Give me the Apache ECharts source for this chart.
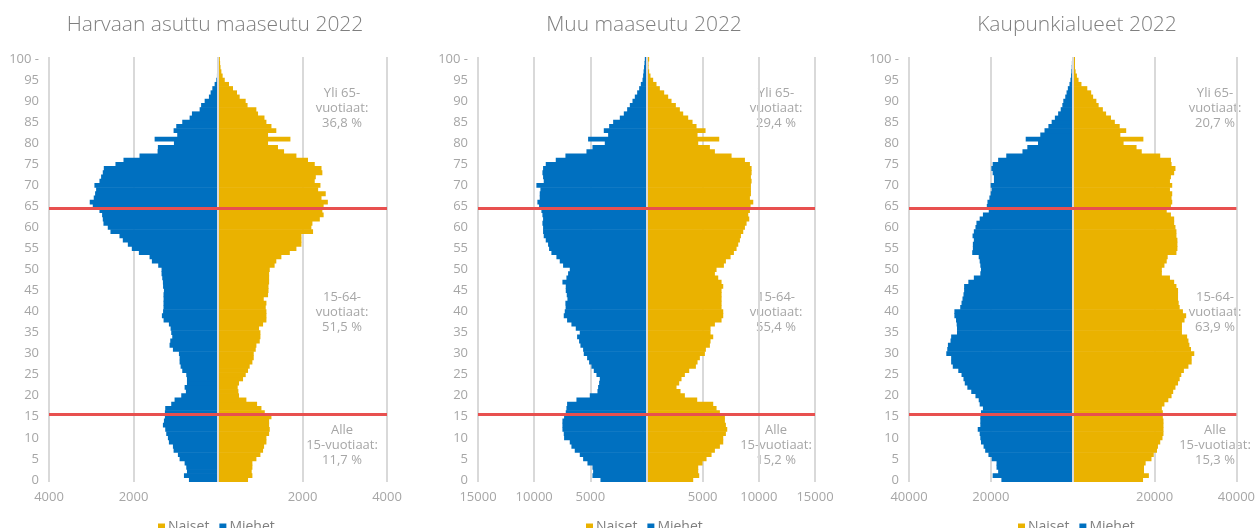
<!DOCTYPE html>
<html>
<head>
<meta charset="utf-8">
<title>Väestörakenne 2022</title>
<script src="https://cdn.jsdelivr.net/npm/echarts@6/dist/echarts.min.js"></script>
<style>
  html, body { margin: 0; padding: 0; background: #fff; }
  #chart { width: 1258px; height: 528px; }
</style>
</head>
<body>
<div id="chart"></div>
<script>
// ikäluokat 0..100
const ages = Array.from({ length: 101 }, (_, i) => String(i));

const titles = ["Harvaan asuttu maaseutu 2022", "Muu maaseutu 2022", "Kaupunkialueet 2022"];

// Harvaan asuttu maaseutu
const harvaanMiehet = [
  688, 806, 735, 751, 790, 909, 949, 1051, 1067, 1162,
  1186, 1225, 1249, 1304, 1280, 1257, 1257, 1249, 1107, 1028,
  870, 760, 790, 735, 735, 751, 846, 885, 909, 909,
  925, 1067, 1146, 1130, 1083, 1107, 1122, 1162, 1288, 1328,
  1300, 1290, 1290, 1288, 1290, 1280, 1300, 1304, 1320, 1336,
  1336, 1415, 1565, 1620, 1873, 2040, 2134, 2253, 2332, 2545,
  2609, 2711, 2727, 2743, 2806, 2964, 3036, 2941, 2909, 2885,
  2925, 2806, 2767, 2727, 2703, 2427, 2237, 1858, 1430, 1423,
  1043, 1500, 965, 1051, 988, 846, 672, 617, 435, 400,
  316, 215, 175, 134, 80, 40, 25, 15, 10, 5,
  3
];
const harvaanNaiset = [
  711, 814, 798, 814, 814, 909, 1004, 1067, 1091, 1146,
  1146, 1210, 1225, 1210, 1210, 1265, 1107, 1028, 925, 672,
  498, 482, 466, 498, 593, 656, 711, 750, 814, 846,
  846, 893, 909, 988, 1004, 1004, 972, 1067, 1146, 1146,
  1146, 1130, 1146, 1083, 1185, 1195, 1195, 1210, 1210, 1210,
  1225, 1340, 1380, 1500, 1700, 1856, 1975, 1975, 1975, 2250,
  2210, 2235, 2410, 2500, 2470, 2500, 2600, 2450, 2550, 2370,
  2425, 2290, 2315, 2470, 2450, 2290, 2130, 1856, 1564, 1420,
  1185, 1714, 1185, 1380, 1265, 1146, 1100, 948, 908, 700,
  655, 513, 450, 355, 260, 160, 110, 80, 60, 50,
  45
];

// Muu maaseutu
const muuMiehet = [
  4099, 4811, 4752, 4811, 5257, 5643, 5940, 6386, 6683, 6831,
  7336, 7366, 7484, 7484, 7484, 7336, 7187, 7128, 7069, 6237,
  5049, 4366, 4307, 4217, 4158, 4455, 4693, 4900, 5108, 5287,
  5584, 5643, 5881, 6000, 6178, 5940, 6296, 6683, 7069, 7366,
  7276, 7200, 7220, 7039, 7100, 7187, 7187, 7484, 7128, 6980,
  6831, 7425, 7722, 8019, 8465, 8672, 8762, 8969, 9148, 9207,
  9207, 9266, 9207, 9266, 9355, 9563, 9712, 9504, 9504, 9445,
  9801, 9148, 9207, 9266, 9207, 8969, 8078, 7217, 5346, 4811,
  3713, 5198, 3416, 3802, 3326, 2970, 2376, 2020, 1723, 1485,
  1247, 1040, 832, 653, 505, 356, 300, 260, 220, 180,
  150
];
const muuNaiset = [
  4158, 4693, 4604, 4604, 4990, 5346, 5792, 6089, 6534, 6831,
  6831, 7069, 7187, 7069, 6980, 6980, 6534, 6237, 5940, 4514,
  3416, 3029, 2673, 2911, 3118, 3416, 3802, 4396, 4544, 4752,
  5197, 5287, 5643, 5702, 5940, 5702, 5702, 6089, 6683, 6831,
  6831, 6683, 6683, 6683, 6683, 6683, 6831, 6683, 6386, 6089,
  6237, 6890, 7069, 7484, 7781, 8019, 8168, 8316, 8405, 8613,
  8762, 8910, 9148, 9059, 9207, 9266, 9504, 9207, 9297, 9297,
  9297, 9356, 9297, 9356, 9356, 9207, 8762, 7574, 6089, 5643,
  4604, 6475, 4544, 5257, 4455, 4099, 3713, 3267, 2970, 2614,
  2228, 1930, 1574, 1188, 891, 594, 356, 240, 180, 180,
  240
];

// Kaupunkialueet
const kaupunkiMiehet = [
  17424, 19562, 18216, 18612, 18612, 19800, 20592, 21384, 21780, 22414,
  22572, 22730, 23206, 22572, 22572, 22572, 22414, 21938, 22730, 22968,
  23760, 24790, 25740, 26374, 26690, 27166, 27958, 29304, 29700, 29700,
  30888, 30650, 30492, 29858, 29700, 28274, 28274, 28354, 28512, 28908,
  28908, 27482, 27166, 26928, 26690, 26532, 26532, 25502, 24156, 22572,
  22414, 22572, 22730, 22968, 24552, 24394, 24394, 24156, 24472, 24156,
  23760, 23522, 22730, 21938, 20512, 20988, 20830, 20354, 20038, 19800,
  20038, 19246, 19246, 19562, 19879, 19562, 18216, 16236, 12276, 11088,
  8474, 11484, 7920, 6890, 5940, 5148, 4356, 3564, 2930, 2534,
  2297, 1822, 1505, 1188, 792, 554, 400, 320, 240, 200,
  158
];
const kaupunkiNaiset = [
  17186, 18612, 17424, 17424, 17820, 19246, 19800, 20592, 20830, 21384,
  21938, 22176, 22176, 22176, 22176, 22018, 22018, 21780, 22414, 23364,
  24156, 24552, 25106, 25740, 26136, 26532, 27166, 28274, 29066, 29066,
  29700, 28908, 28512, 28274, 27958, 26690, 26690, 26690, 27324, 27720,
  26928, 26136, 25898, 25740, 25740, 25740, 25344, 24790, 23760, 21780,
  21780, 22414, 22968, 23206, 25344, 25582, 25582, 25582, 25344, 25344,
  25106, 24790, 24790, 23998, 22968, 23998, 24314, 24156, 24314, 23760,
  24314, 23760, 23998, 24790, 25106, 24156, 23998, 21384, 16870, 15602,
  12434, 17266, 11642, 13068, 11484, 10296, 9346, 8158, 7366, 6336,
  5782, 4990, 4514, 3564, 2138, 1426, 1030, 713, 554, 554,
  554
];

const miehet = [harvaanMiehet, muuMiehet, kaupunkiMiehet];
const naiset = [harvaanNaiset, muuNaiset, kaupunkiNaiset];

// akselien rajat
const axisMax = [4000, 15000, 40000];
const axisStep = [2000, 5000, 20000];

// ikäryhmien rajat (punaiset viivat)
const ryhmaRajat = [15.5, 64.5];

// osuudet: yli 65, 15-64, alle 15
const osuudet = [
  ["36,8 %", "51,5 %", "11,7 %"],
  ["29,4 %", "55,4 %", "15,2 %"],
  ["20,7 %", "63,9 %", "15,3 %"]
];

const BLUE = "#0070c0";
const YELLOW = "#eab200";
const RED = "#e8504f";
const GRID = "#d9d9d9";
const LABEL = "#a6a6a6";
const FONT = "'Open Sans', sans-serif";

// asettelu
const gridLeft = [49, 478, 909];
const gridWidth = [338, 337, 335];
const titleX = [210, 639, 1072];
const legendX = [153, 581, 1013];
const noteX = [342, 776, 1215];
const noteY = [86, 290, 423];

let myChart = echarts.init(document.getElementById("chart"), null, { renderer: "canvas" });

const grid = [], xAxis = [], yAxis = [], series = [], title = [], legend = [], graphic = [];

for (let i = 0; i < 3; i++) {
  grid.push({ left: gridLeft[i], width: gridWidth[i], top: 57, height: 425, containLabel: false });
  title.push({
    text: titles[i], left: titleX[i], top: 10, textAlign: "center",
    textStyle: { fontFamily: FONT, fontSize: 21, fontWeight: 300, color: "#7f7f7f" }
  });
  legend.push({
    data: ["Naiset", "Miehet"], left: legendX[i], top: 515,
    icon: "rect", itemWidth: 7, itemHeight: 7, itemGap: 10,
    textStyle: { fontFamily: FONT, fontSize: 14, color: "#7f7f7f", padding: [0, 0, 0, -2] }
  });
  xAxis.push({
    gridIndex: i, type: "value",
    min: -axisMax[i], max: axisMax[i], interval: axisStep[i],
    axisLine: { show: false }, axisTick: { show: false },
    splitLine: { lineStyle: { color: GRID, width: 2 } },
    axisLabel: {
      color: LABEL, fontFamily: FONT, fontSize: 13, margin: 9,
      formatter: (v) => (v === 0 ? "" : String(Math.abs(v)))
    }
  });
  yAxis.push({
    gridIndex: i, type: "category", data: ages,
    axisLine: { show: false }, axisTick: { show: false },
    axisLabel: {
      color: LABEL, fontFamily: FONT, fontSize: 13, margin: 10, interval: 4,
      formatter: (v) => (v === "100" ? "100 -" : v)
    }
  });
  // piilotettu arvoakseli rajaviivoja varten
  yAxis.push({ gridIndex: i, type: "value", min: -0.5, max: 100.5, show: false });

  series.push({
    name: "Naiset", type: "bar", xAxisIndex: i, yAxisIndex: 2 * i,
    data: naiset[i],
    itemStyle: { color: YELLOW },
    barWidth: "115%", barGap: "-100%"
  });
  series.push({
    name: "Miehet", type: "bar", xAxisIndex: i, yAxisIndex: 2 * i,
    data: miehet[i].map((v) => -v),
    itemStyle: { color: BLUE },
    barWidth: "115%", barGap: "-100%"
  });
  series.push({
    type: "line", xAxisIndex: i, yAxisIndex: 2 * i + 1,
    data: [[0, 50]], symbol: "none", silent: true,
    lineStyle: { opacity: 0 },
    markLine: {
      silent: true, symbol: ["none", "none"], animation: false,
      label: { show: false },
      data: [
        { xAxis: 0, lineStyle: { color: GRID, width: 2, type: "solid" } },
        ...ryhmaRajat.map((r) => ({ yAxis: r, lineStyle: { color: RED, width: 3, type: "solid" } }))
      ]
    }
  });

  const notes = [
    "Yli 65-\nvuotiaat:\n" + osuudet[i][0],
    "15-64-\nvuotiaat:\n" + osuudet[i][1],
    "Alle\n15-vuotiaat:\n" + osuudet[i][2]
  ];
  notes.forEach((t, k) => {
    graphic.push({
      type: "text", x: noteX[i], y: noteY[k], silent: true,
      style: {
        text: t, fill: LABEL, font: "13px " + FONT,
        align: "center", verticalAlign: "top", lineHeight: 15
      }
    });
  });
}

myChart.setOption({
  animation: false,
  title: title,
  legend: legend,
  grid: grid,
  xAxis: xAxis,
  yAxis: yAxis,
  series: series,
  graphic: graphic
});

window.onresize = function () {
  myChart.resize();
};
</script>
</body>
</html>
